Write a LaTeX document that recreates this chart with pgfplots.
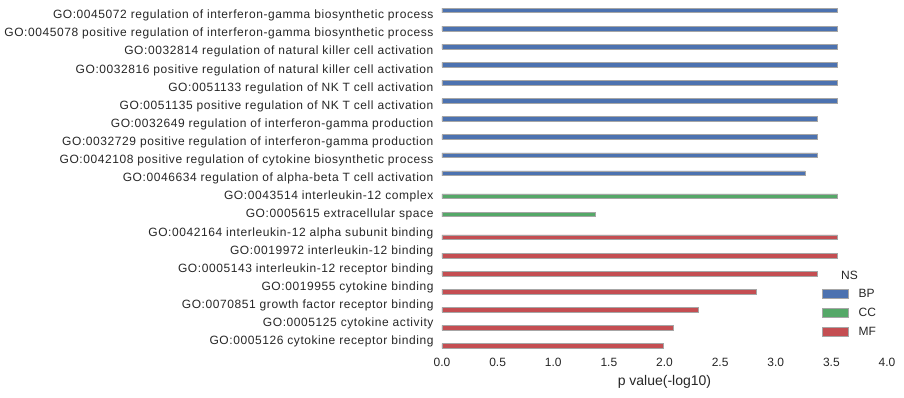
\documentclass[border=0pt]{standalone}
\usepackage{fontspec}
\setmainfont{Liberation Sans}
\newfontfamily\ylabfont{Liberation Sans}[LetterSpace=4.8]
\usepackage{pgfplots}
\pgfplotsset{compat=1.18}
\definecolor{cBP}{HTML}{4C72B0}
\definecolor{cCC}{HTML}{55A868}
\definecolor{cMF}{HTML}{C44E52}
\definecolor{txt}{HTML}{262626}
\begin{document}
\begin{tikzpicture}
\begin{axis}[
  scale only axis,
  width=445pt, height=344pt,
  xbar, bar width=0.267,
  y dir=reverse,
  xmin=0, xmax=4, ymin=-0.5, ymax=18.5,
  axis line style={draw=none},
  tick style={draw=none},
  major tick length=0pt,
  xtick={0,0.5,...,4},
  xticklabel style={font=\fontsize{12}{14}\selectfont, text=txt, yshift=-4.5pt},
  /pgf/number format/assume math mode=true,
  /pgf/number format/.cd, fixed, fixed zerofill, precision=1, /pgfplots/.cd,
  ytick={0,...,18},
  yticklabels={
    GO:0045072 regulation of interferon-gamma biosynthetic process,
    GO:0045078 positive regulation of interferon-gamma biosynthetic process,
    GO:0032814 regulation of natural killer cell activation,
    GO:0032816 positive regulation of natural killer cell activation,
    GO:0051133 regulation of NK T cell activation,
    GO:0051135 positive regulation of NK T cell activation,
    GO:0032649 regulation of interferon-gamma production,
    GO:0032729 positive regulation of interferon-gamma production,
    GO:0042108 positive regulation of cytokine biosynthetic process,
    GO:0046634 regulation of alpha-beta T cell activation,
    GO:0043514 interleukin-12 complex,
    GO:0005615 extracellular space,
    GO:0042164 interleukin-12 alpha subunit binding,
    GO:0019972 interleukin-12 binding,
    GO:0005143 interleukin-12 receptor binding,
    GO:0019955 cytokine binding,
    GO:0070851 growth factor receptor binding,
    GO:0005125 cytokine activity,
    GO:0005126 cytokine receptor binding},
  yticklabel style={font=\ylabfont\fontsize{12}{14}\selectfont, text=txt, anchor=base east, xshift=-5pt, yshift=-3.5pt},
  xlabel={p value(-log10)},
  xlabel style={font=\fontsize{14}{16}\selectfont, text=txt, at={(axis description cs:0.5,0)}, anchor=center, yshift=-32pt},
  legend image code/.code={\draw[#1] (0pt,-4.5pt) rectangle (26pt,4.5pt);},
  legend style={draw=none, fill=none, inner sep=0pt, outer sep=0pt,
    at={(axis description cs:0.854,0.1785)}, anchor=north west,
    row sep=9.3pt, font=\fontsize{12}{14}\selectfont, text=txt,
    nodes={inner sep=0pt, text height=8.8pt, text depth=0.2pt}},
  legend cell align=left,
  /tikz/every odd column/.append style={column sep=10pt},
]
\addplot[fill=cBP, draw=gray!70, line width=0.7pt, bar shift=-0.267] coordinates {
  (3.557,0) (3.557,1) (3.557,2) (3.557,3) (3.557,4) (3.557,5)
  (3.377,6) (3.377,7) (3.377,8) (3.263,9)};
\addlegendentry{BP}
\addplot[fill=cCC, draw=gray!70, line width=0.7pt, bar shift=0] coordinates {
  (3.557,10) (1.375,11)};
\addlegendentry{CC}
\addplot[fill=cMF, draw=gray!70, line width=0.7pt, bar shift=0.267] coordinates {
  (3.557,12) (3.557,13) (3.377,14) (2.822,15) (2.301,16) (2.076,17) (1.987,18)};
\addlegendentry{MF}
\node[font=\fontsize{12}{14}\selectfont, text=txt] at (axis description cs:0.9157,0.218) {NS};
\coordinate (bl) at (axis description cs:0,0);
\end{axis}
\pgfresetboundingbox
\path[use as bounding box] (bl) ++(-442pt,-46.8pt) rectangle ++(904pt,397pt);
\end{tikzpicture}
\end{document}
